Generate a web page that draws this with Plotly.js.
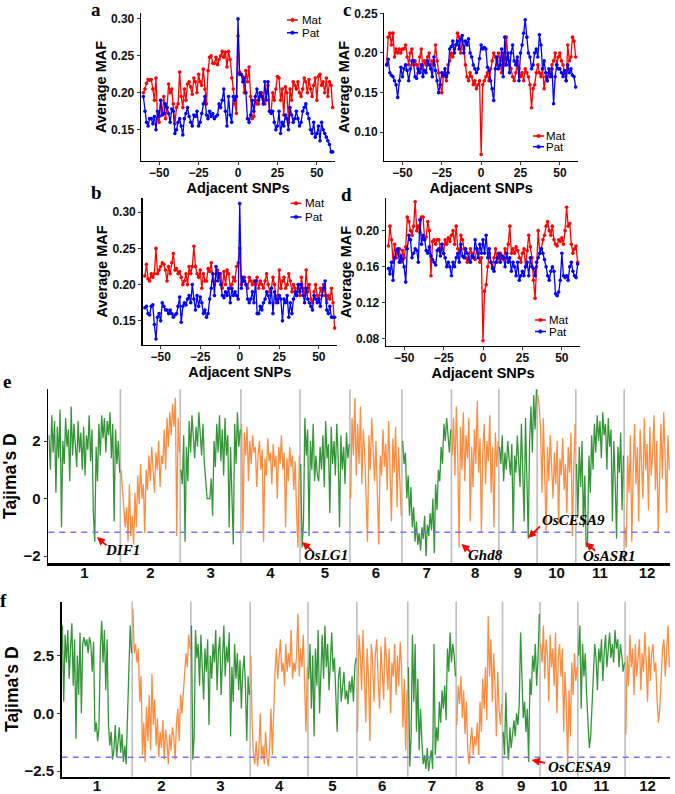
<!DOCTYPE html>
<html><head><meta charset="utf-8">
<script src="https://cdn.plot.ly/plotly-3.0.1.min.js"></script>
<style>html,body{margin:0;padding:0;background:#fff}#chart{width:675px;height:794px}</style>
</head><body><div id="chart"></div>
<script>
// ---------- panels a-d : average MAF around a focal SNP (-60 .. 60) ----------
const snpFirst = -60, snpLast = 60;
const matA = [0.200,0.205,0.213,0.218,0.217,0.218,0.205,0.190,0.220,0.165,
0.160,0.190,0.170,0.195,0.165,0.180,0.212,0.200,0.205,0.185,
0.158,0.180,0.185,0.228,0.195,0.180,0.205,0.190,0.212,0.215,
0.208,0.198,0.220,0.215,0.200,0.225,0.215,0.210,0.232,0.205,
0.185,0.230,0.248,0.250,0.240,0.240,0.248,0.238,0.245,0.250,
0.256,0.248,0.255,0.235,0.256,0.245,0.220,0.205,0.185,0.172,
0.277,0.228,0.225,0.222,0.200,0.230,0.215,0.235,0.195,0.165,
0.168,0.190,0.185,0.185,0.195,0.200,0.192,0.185,0.200,0.210,
0.175,0.175,0.200,0.190,0.205,0.222,0.220,0.190,0.205,0.170,
0.208,0.200,0.160,0.205,0.190,0.215,0.210,0.205,0.215,0.200,
0.195,0.205,0.220,0.215,0.200,0.218,0.205,0.195,0.210,0.220,
0.190,0.222,0.225,0.210,0.215,0.200,0.220,0.195,0.215,0.210,0.180];
const patA = [0.195,0.175,0.160,0.155,0.165,0.165,0.158,0.168,0.150,0.175,
0.168,0.190,0.170,0.172,0.185,0.180,0.172,0.160,0.178,0.175,
0.145,0.150,0.160,0.165,0.155,0.143,0.165,0.172,0.180,0.168,
0.160,0.155,0.170,0.168,0.175,0.155,0.160,0.172,0.185,0.195,
0.170,0.165,0.175,0.168,0.172,0.165,0.168,0.170,0.185,0.180,
0.190,0.205,0.175,0.155,0.195,0.170,0.160,0.195,0.190,0.195,
0.300,0.225,0.225,0.215,0.220,0.200,0.165,0.160,0.170,0.190,
0.175,0.195,0.205,0.190,0.200,0.195,0.185,0.215,0.190,0.215,
0.175,0.172,0.175,0.160,0.150,0.155,0.175,0.145,0.160,0.155,
0.170,0.165,0.150,0.180,0.170,0.160,0.165,0.175,0.165,0.155,
0.160,0.175,0.180,0.185,0.172,0.165,0.150,0.145,0.160,0.140,
0.145,0.155,0.135,0.160,0.150,0.145,0.140,0.135,0.130,0.120,0.120];
const matB = [0.212,0.228,0.208,0.205,0.215,0.210,0.215,0.250,0.215,0.220,
0.225,0.230,0.228,0.220,0.205,0.225,0.215,0.230,0.243,0.220,
0.222,0.215,0.218,0.210,0.200,0.205,0.215,0.200,0.225,0.215,
0.225,0.253,0.225,0.215,0.210,0.220,0.195,0.215,0.205,0.205,
0.222,0.218,0.230,0.205,0.200,0.215,0.220,0.210,0.215,0.195,
0.218,0.200,0.220,0.215,0.195,0.200,0.210,0.205,0.225,0.230,
0.250,0.200,0.205,0.210,0.200,0.195,0.210,0.205,0.200,0.205,
0.200,0.210,0.195,0.205,0.200,0.195,0.205,0.215,0.200,0.190,
0.195,0.210,0.200,0.175,0.185,0.220,0.195,0.205,0.210,0.195,
0.200,0.215,0.205,0.190,0.200,0.195,0.185,0.200,0.185,0.210,
0.195,0.185,0.220,0.190,0.200,0.180,0.175,0.190,0.200,0.185,
0.180,0.195,0.190,0.200,0.185,0.175,0.185,0.180,0.195,0.175,0.140];
const patB = [0.168,0.170,0.160,0.158,0.170,0.172,0.145,0.125,0.155,0.160,
0.150,0.175,0.170,0.165,0.165,0.160,0.165,0.160,0.155,0.158,
0.160,0.170,0.183,0.148,0.170,0.175,0.172,0.180,0.185,0.175,
0.200,0.180,0.165,0.185,0.170,0.183,0.175,0.160,0.165,0.155,
0.160,0.180,0.195,0.215,0.185,0.225,0.205,0.215,0.200,0.185,
0.182,0.190,0.185,0.195,0.175,0.195,0.185,0.190,0.185,0.180,
0.312,0.195,0.210,0.205,0.200,0.180,0.175,0.180,0.190,0.175,
0.205,0.160,0.160,0.170,0.165,0.175,0.180,0.190,0.185,0.175,
0.195,0.160,0.190,0.180,0.175,0.185,0.180,0.150,0.180,0.175,
0.185,0.155,0.175,0.160,0.180,0.190,0.185,0.200,0.190,0.200,
0.185,0.175,0.195,0.180,0.175,0.170,0.165,0.185,0.180,0.175,
0.180,0.170,0.185,0.195,0.205,0.165,0.160,0.170,0.155,0.155,0.155];
const matC = [0.185,0.220,0.225,0.210,0.225,0.195,0.205,0.200,0.205,0.200,
0.205,0.205,0.210,0.195,0.185,0.200,0.205,0.185,0.190,0.185,
0.175,0.195,0.205,0.180,0.190,0.185,0.195,0.200,0.180,0.190,
0.185,0.210,0.190,0.175,0.160,0.150,0.170,0.175,0.165,0.185,
0.190,0.200,0.195,0.205,0.210,0.225,0.220,0.200,0.215,0.205,
0.185,0.170,0.165,0.175,0.170,0.160,0.165,0.155,0.160,0.165,
0.072,0.160,0.165,0.170,0.175,0.165,0.180,0.190,0.200,0.195,
0.185,0.200,0.190,0.175,0.200,0.185,0.220,0.195,0.190,0.180,
0.170,0.165,0.175,0.190,0.180,0.170,0.175,0.165,0.180,0.175,
0.170,0.160,0.131,0.155,0.160,0.175,0.185,0.175,0.170,0.180,
0.155,0.170,0.165,0.175,0.175,0.185,0.190,0.200,0.185,0.195,
0.200,0.190,0.185,0.175,0.165,0.210,0.190,0.195,0.220,0.215,0.195];
const patC = [0.185,0.192,0.175,0.172,0.170,0.165,0.160,0.144,0.165,0.182,
0.170,0.180,0.185,0.178,0.165,0.180,0.190,0.190,0.170,0.168,
0.180,0.175,0.185,0.170,0.178,0.175,0.190,0.185,0.180,0.170,
0.195,0.178,0.165,0.150,0.160,0.175,0.172,0.180,0.170,0.175,
0.205,0.208,0.215,0.200,0.210,0.215,0.205,0.218,0.222,0.200,
0.215,0.210,0.218,0.200,0.195,0.185,0.180,0.175,0.180,0.193,
0.210,0.205,0.207,0.205,0.182,0.178,0.165,0.155,0.140,0.180,
0.195,0.180,0.185,0.205,0.170,0.220,0.185,0.200,0.175,0.200,
0.210,0.190,0.185,0.195,0.165,0.200,0.210,0.225,0.242,0.220,
0.200,0.195,0.180,0.185,0.200,0.205,0.195,0.223,0.210,0.180,
0.190,0.175,0.165,0.180,0.170,0.180,0.136,0.170,0.185,0.180,
0.180,0.175,0.170,0.178,0.165,0.185,0.175,0.180,0.172,0.170,0.157];
const matD = [0.183,0.205,0.190,0.165,0.185,0.170,0.175,0.180,0.165,0.178,
0.170,0.182,0.215,0.210,0.200,0.195,0.205,0.232,0.200,0.205,
0.198,0.215,0.215,0.190,0.193,0.210,0.200,0.150,0.188,0.190,
0.185,0.190,0.190,0.178,0.185,0.175,0.190,0.185,0.192,0.188,
0.195,0.200,0.185,0.205,0.180,0.175,0.195,0.190,0.180,0.170,
0.165,0.170,0.180,0.175,0.170,0.168,0.180,0.175,0.165,0.170,
0.078,0.133,0.140,0.160,0.175,0.165,0.160,0.170,0.180,0.165,
0.170,0.175,0.172,0.168,0.180,0.170,0.185,0.205,0.175,0.180,
0.175,0.182,0.178,0.170,0.165,0.175,0.180,0.160,0.178,0.195,
0.182,0.170,0.145,0.125,0.160,0.200,0.175,0.180,0.190,0.195,
0.205,0.210,0.200,0.195,0.205,0.190,0.185,0.183,0.190,0.188,
0.192,0.185,0.200,0.226,0.205,0.208,0.185,0.175,0.180,0.183,0.165];
const patD = [0.158,0.152,0.165,0.145,0.170,0.178,0.180,0.165,0.172,0.168,
0.160,0.143,0.180,0.195,0.190,0.170,0.175,0.180,0.178,0.165,
0.212,0.185,0.195,0.190,0.178,0.175,0.182,0.172,0.168,0.165,
0.162,0.178,0.180,0.172,0.185,0.175,0.170,0.160,0.165,0.160,
0.150,0.165,0.160,0.170,0.175,0.165,0.185,0.172,0.170,0.180,
0.175,0.168,0.165,0.172,0.170,0.190,0.180,0.170,0.185,0.175,
0.190,0.175,0.195,0.170,0.180,0.165,0.158,0.155,0.165,0.170,
0.175,0.165,0.172,0.170,0.160,0.175,0.165,0.170,0.155,0.165,
0.160,0.150,0.165,0.145,0.150,0.155,0.150,0.160,0.165,0.150,
0.170,0.160,0.158,0.150,0.165,0.170,0.175,0.180,0.175,0.168,
0.160,0.150,0.145,0.155,0.160,0.155,0.130,0.128,0.132,0.145,
0.175,0.150,0.148,0.150,0.145,0.160,0.165,0.155,0.150,0.148,0.163];
const snpTicks = [-50,-25,0,25,50];

// ---------- panels e-f : Tajima's D along the 12 rice chromosomes ----------
const chrNames = ['1','2','3','4','5','6','7','8','9','10','11','12'];
const chrLenMb = [43.27,35.94,36.41,35.50,29.96,31.25,29.70,28.44,23.01,23.21,29.02,27.53];
const tajE = [
[2.2,1.0,2.9,1.6,2.7,0.2,2.5,1.4,3.1,-1.0,2.0,1.2,2.8,1.8,2.4,0.6,3.2,1.5,2.6,2.0,1.1,2.7,1.6,2.3,1.0,2.5,0.8,2.2,1.7,2.9,1.3,2.4,-0.5,-1.5,1.8,0.6,2.6,1.5,2.9,2.1,2.8,1.6,2.7,2.2,3.0,1.4,2.6,-0.8,2.4,1.2,2.0,0.9],
[1.0,0.2,-0.5,-1.0,-0.3,-1.5,0.5,-1.3,-0.6,-1.6,0.2,-1.0,0.8,-0.2,1.2,0.0,0.5,-1.2,1.0,0.3,1.5,0.6,1.8,0.9,0.2,1.6,1.0,2.0,0.4,1.5,1.2,2.4,1.0,2.8,1.8,3.0,2.2,3.3,2.5,3.5,-1.3,2.8,1.6],
[1.0,0.5,2.2,-1.5,1.8,0.6,2.7,1.6,2.9,2.0,1.4,2.5,1.8,3.0,2.2,1.5,2.6,1.2,0.6,0.0,0.0,0.0,0.7,-0.6,2.0,1.1,2.6,1.6,2.9,1.3,2.4,0.8,2.8,1.5,2.2,-1.0,1.8,0.4,-1.6,2.6,1.2,3.0,1.8,2.4],
[2.6,-1.2,2.3,1.5,2.5,0.6,2.0,1.2,2.2,1.6,1.8,0.4,1.5,2.0,1.0,1.7,-1.5,1.4,0.8,2.1,1.3,1.6,0.5,1.9,1.1,1.5,0.0,1.8,1.2,2.2,1.0,1.6,-1.0,1.4,0.6,1.8,1.1,1.5,0.3,1.3,-0.5,-1.7,1.5],
[1.2,-1.7,-0.8,2.8,1.5,2.4,-1.3,2.0,1.0,2.6,0.6,1.5,0.8,0.6,1.8,1.0,2.2,0.4,2.7,1.4,1.9,-0.5,2.5,1.2,2.0,0.8,2.6,1.5,-1.0,2.2,1.0,1.8,0.5,2.3,1.4,1.9],
[0.0,2.8,1.5,3.5,0.8,2.6,1.2,3.2,0.5,2.4,1.6,-0.5,-1.5,2.2,1.0,2.8,1.4,0.6,2.0,0.2,-1.6,1.5,0.8,2.4,1.1,1.9,0.3,2.7,1.3,-0.8,2.1,0.9,2.5,-0.3,1.8,0.4,-0.6],
[2.0,1.2,1.6,0.0,0.8,-0.6,0.4,-1.0,-0.3,-1.5,-0.8,-1.6,-1.2,-1.8,-1.0,-1.4,-0.6,-2.0,-0.9,-1.3,-0.5,-1.1,0.0,-1.9,0.5,-0.4,1.0,0.6,1.8,1.2,2.6,2.0,2.8,2.2,1.6,2.4],
[1.5,2.8,0.8,3.2,1.6,-1.7,2.5,1.0,3.0,0.6,2.2,1.4,2.8,-0.8,1.8,0.4,2.4,1.2,3.4,0.9,2.1,-1.2,1.6,2.6,0.5,2.0,1.3,2.9,0.2,1.8,-1.0,2.3,1.1,2.0],
[1.8,1.2,2.2,0.6,1.6,1.0,2.0,1.4,0.8,1.9,-1.2,1.5,0.9,2.2,1.3,0.4,2.6,1.1,-0.8,2.8,0.5,-1.4,2.0,3.2,1.6,3.6,2.4,3.8],
[3.6,3.2,2.4,0.2,2.8,1.2,-1.2,1.8,0.6,2.2,1.0,0.0,1.6,0.5,2.0,-0.9,1.4,0.8,2.1,0.3,1.2,-0.5,1.8,0.9,2.3,-1.3,1.0,2.6],
[1.2,-0.6,1.8,0.4,2.0,-1.0,0.8,-1.7,-1.5,1.5,0.2,2.2,1.0,2.6,1.6,2.9,2.0,2.7,1.4,3.0,2.2,2.6,1.0,2.8,1.8,2.4,-0.8,2.0,0.6,-1.4,1.8,0.9,2.3,-0.4,1.5],
[-1.0,-1.7,1.5,0.2,2.2,-1.5,1.0,2.6,0.5,1.8,-0.8,2.4,1.2,0.0,2.8,1.0,1.9,-0.4,2.5,0.8,1.6,2.9,0.3,2.0,-1.2,1.4,2.6,0.7,3.0,1.5,-0.5,2.2,1.0]
];
const tajF = [
[3.8,0.5,3.4,2.2,3.6,1.5,2.8,3.9,1.2,3.2,-1.1,2.5,0.8,3.5,0.0,3.0,3.3,2.9,3.2,2.6,3.3,3.0,1.8,3.1,-0.8,-0.4,-1.2,-0.6,2.8,4.0,2.2,3.6,1.0,3.2,-0.5,-1.4,-0.8,-2.0,-1.6,-0.5,-1.9,-1.2,-0.6,-1.7,-0.9,-2.1,-1.4,-2.2,0.2,1.5,3.8,2.6],
[4.5,2.6,3.0,2.2,2.8,0.5,1.6,-1.8,-0.4,-2.1,0.3,-1.2,0.8,-1.6,1.7,-0.5,0.6,-1.4,-0.2,-1.9,-0.8,-1.5,-0.3,-2.0,-0.7,-1.2,-2.2,-0.9,-1.6,-0.6,-1.0,-2.0,-0.4,0.2,-1.2,0.8,0.0,1.0,1.8,2.6,2.0,3.4,2.8],
[3.8,-2.0,-1.0,3.6,2.4,3.0,1.2,3.4,2.0,0.6,2.8,1.8,3.2,-0.5,2.5,1.5,3.0,2.2,3.6,1.0,2.7,3.3,0.8,2.4,3.8,1.6,2.9,2.2,3.5,-1.0,2.0,0.5,3.0,1.5,2.6,1.0,2.3,0.2,1.8,2.5,1.2,-1.2,1.6,0.8],
[2.5,-0.5,-1.8,-2.2,-1.2,-2.3,-1.6,0.0,-2.0,-1.4,-2.2,-0.8,-1.9,-2.3,-1.5,0.2,-1.8,0.5,1.8,2.8,1.5,2.4,3.2,1.8,2.2,1.2,3.0,1.8,2.6,2.0,3.6,1.5,2.2,1.8,2.5,4.3,1.6,2.8,2.0,3.4,1.2,-0.8,2.0],
[1.5,3.0,0.2,2.5,-1.0,2.8,1.2,3.6,0.0,2.2,3.4,1.5,3.8,2.0,3.0,1.0,2.6,3.5,1.8,2.4,0.8,-0.8,1.6,2.0,0.5,1.2,1.8,0.6,1.0,0.4,1.4,0.9,1.6,0.5,2.0,2.4],
[-0.8,3.4,2.6,1.0,3.6,2.0,-0.4,2.8,1.5,-1.2,3.0,2.2,0.5,2.6,3.2,1.4,0.2,2.9,1.8,0.6,3.3,2.4,1.0,2.8,0.0,2.2,1.6,3.0,0.8,2.5,1.2,3.1,2.0,-0.6,1.5,-1.6,1.0],
[2.0,-2.3,-1.0,3.4,0.5,3.0,-0.8,1.5,-1.6,0.2,-1.2,-2.2,-1.8,-2.4,-1.5,-2.5,-2.0,-1.6,-2.4,3.0,-1.8,-0.6,-1.2,0.5,-0.4,1.0,0.2,1.2,-0.3,2.8,1.8,3.5,2.2,3.0,2.5,1.6],
[-0.5,1.2,0.4,1.6,-0.2,1.0,-0.9,0.5,-1.6,-2.2,-1.2,-0.6,-1.8,-1.0,-1.4,-0.4,-1.8,0.5,-0.8,1.5,0.2,2.0,-0.3,4.2,1.6,3.2,0.5,2.6,1.2,-1.0,1.8,0.2,-0.5,0.4],
[-0.8,-1.8,0.9,-1.2,-2.0,-0.6,-1.5,-0.8,-0.3,-1.0,0.0,-0.5,0.4,3.5,2.0,-0.2,0.5,-0.8,0.2,-2.1,1.5,0.8,2.5,1.8,3.0,1.2,2.4,4.3],
[3.0,2.2,3.8,1.5,3.2,2.6,0.5,3.4,2.0,2.8,1.2,3.5,0.0,2.4,3.0,1.6,2.8,-0.8,1.8,0.4,-2.2,1.0,-1.0,2.2,0.8,2.6,1.4,2.0],
[2.5,3.8,0.2,3.0,1.6,2.6,0.8,-0.5,-1.5,-1.0,0.6,2.2,3.0,2.4,1.0,2.8,2.2,3.2,1.4,2.6,3.4,2.0,2.9,3.5,2.4,3.0,2.2,3.6,2.8,3.2,2.0,3.0,2.5,1.8,2.2],
[-0.9,2.5,1.2,3.4,2.0,2.8,0.8,3.0,1.6,2.4,3.2,1.0,2.6,1.8,3.5,2.2,0.5,2.9,1.4,2.6,3.0,1.8,2.2,0.6,-0.4,0.2,1.5,2.8,3.2,1.6,2.6,3.8,2.0]
];
const threshE = -1.17, threshF = -1.90;
// gene markers: [label, chromosome, position in Mb on chromosome, Tajima's D at arrow tip]
const genesE = [['DIF1',1,29.2,-1.34],['OsLG1',5,1.2,-1.51],['Ghd8',8,6.0,-1.58],['OsCESA9',9,17.6,-1.37],['OsASR1',11,5.9,-1.53]];
const genesF = [['OsCESA9',9,17.8,-2.02]];

// ---------- drawing ----------
const W = 675, H = 794;
const px = v => v / W, py = v => 1 - v / H;
const SANS = 'Liberation Sans, Arial, sans-serif', SERIF = 'Liberation Serif, Times New Roman, serif';
const RED = '#FF0000', BLUE = '#0000FF';
const GREEN = '#1E8B22', ORANGE = '#FF7F2A';
const B = t => '<b>' + t + '</b>';

const snpX = []; for (let s = snpFirst; s <= snpLast; s++) snpX.push(s);

const traces = [], shapes = [], annotations = [];
const layout = {width: W, height: H, margin: {l:0,r:0,t:0,b:0}, paper_bgcolor:'#fff', plot_bgcolor:'#fff', showlegend:false, font:{family:SANS}};

const small = [
  {letter:'a', x:[141,335], y:[13,161], yr:[0.1077,0.308], yt:[0.15,0.20,0.25,0.30], mat:matA, pat:patA, leg:[287,300,20,32.7], L:[96,9]},
  {letter:'b', x:[142.5,337], y:[198,345], yr:[0.1167,0.3195], yt:[0.15,0.20,0.25,0.30], mat:matB, pat:patB, leg:[290.5,303,203.3,217], L:[96,193]},
  {letter:'c', x:[384.3,578], y:[12.7,161], yr:[0.0638,0.2508], yt:[0.10,0.15,0.20,0.25], mat:matC, pat:patC, leg:[533,544.3,136,146.7], L:[346.7,9]},
  {letter:'d', x:[386,580], y:[198,346], yr:[0.0722,0.2362], yt:[0.08,0.12,0.16,0.20], mat:matD, pat:patD, leg:[535,546.7,320,331.5], L:[346.7,194]}
];
const tickFontS = {family:SANS, size:12, color:'#111', weight:'bold'};
const titleFontS = {family:SANS, size:14.5, color:'#000', weight:'bold'};
small.forEach((p, i) => {
  const sfx = i === 0 ? '' : String(i + 1);
  layout['xaxis' + sfx] = {domain:[px(p.x[0]), px(p.x[1])], range:[-61.5, 61.5], anchor:'y' + sfx,
    showline:true, linecolor:'#000', linewidth:1.3, ticks:'outside', ticklen:3, tickcolor:'#333', tickwidth:1,
    showgrid:false, zeroline:false, tickvals:snpTicks, ticktext:snpTicks.map(v => B(v < 0 ? '\u2212' + (-v) : v)),
    tickfont:tickFontS, ticklabelstandoff:-3,
    title:{text:B('Adjacent SNPs'), font:titleFontS, standoff:0}};
  layout['yaxis' + sfx] = {domain:[py(p.y[1]), py(p.y[0])], range:p.yr, anchor:'x' + sfx,
    showline:true, linecolor:'#000', linewidth:1.3, ticks:'outside', ticklen:3, tickcolor:'#333', tickwidth:1,
    showgrid:false, zeroline:false, tickvals:p.yt, ticktext:p.yt.map(v => B(v.toFixed(2))), tickfont:tickFontS,
    title:{text:B('Average MAF'), font:titleFontS, standoff:1}};
  [[p.mat, RED, 'Mat'], [p.pat, BLUE, 'Pat']].forEach(([vals, col, nm]) => {
    traces.push({type:'scatter', mode:'lines+markers', x:snpX, y:vals, name:nm, xaxis:'x' + sfx, yaxis:'y' + sfx,
      line:{color:col, width:1.3}, marker:{color:col, size:3.6}, cliponaxis:false});
  });
  // legend keys
  const [sx, tx, y1, y2] = p.leg;
  [[y1, RED, 'Mat'], [y2, BLUE, 'Pat']].forEach(([yy, col, nm]) => {
    shapes.push({type:'line', xref:'paper', yref:'paper', x0:px(sx), x1:px(sx + 11), y0:py(yy), y1:py(yy), line:{color:col, width:1.5}});
    shapes.push({type:'circle', xref:'paper', yref:'paper', x0:px(sx + 3.7), x1:px(sx + 7.3), y0:py(yy + 1.8), y1:py(yy - 1.8), fillcolor:col, line:{color:col, width:0.5}});
    annotations.push({xref:'paper', yref:'paper', x:px(tx), y:py(yy), text:nm, showarrow:false, xanchor:'left', yanchor:'middle',
      font:{family:SANS, size:11.5, color:'#000'}});
  });
  annotations.push({xref:'paper', yref:'paper', x:px(p.L[0]), y:py(p.L[1]), text:B(p.letter), showarrow:false, xanchor:'center', yanchor:'middle',
    font:{family:SERIF, size:19, color:'#000', weight:'bold'}});
});

// chromosome offsets
const chrStart = []; let acc = 0;
chrLenMb.forEach(l => { chrStart.push(acc); acc += l; });
const genomeLen = acc;
const chrMid = chrLenMb.map((l, k) => chrStart[k] + l / 2);

const big = [
  {letter:'e', sfx:'5', data:tajE, x:[48.3,670], y:[389.3,563], yr:[-2.24,3.80], yt:[-2,0,2], dec:0, thr:threshE, genes:genesE, L:[6.7,381.7], standoff:4},
  {letter:'f', sfx:'6', data:tajF, x:[61.7,670], y:[601.7,776.7], yr:[-2.74,4.83], yt:[-2.5,0,2.5], dec:1, thr:threshF, genes:genesF, L:[3.5,600], standoff:1}
];
const tickFontB = {family:SANS, size:15, color:'#111', weight:'bold'};
big.forEach(p => {
  const s = p.sfx;
  layout['xaxis' + s] = {domain:[px(p.x[0]), px(p.x[1])], range:[0, genomeLen], anchor:'y' + s,
    showline:true, linecolor:'#000', linewidth:2.6, ticks:'', showgrid:false, zeroline:false,
    tickvals:chrMid, ticktext:chrNames.map(B), tickfont:tickFontB, ticklabelstandoff:-6};
  layout['yaxis' + s] = {domain:[py(p.y[1]), py(p.y[0])], range:p.yr, anchor:'x' + s,
    showline:true, linecolor:'#000', linewidth:1.6, ticks:'outside', ticklen:3, tickcolor:'#333',
    showgrid:false, zeroline:false, tickvals:p.yt,
    ticktext:p.yt.map(v => B((v < 0 ? '\u2212' : '') + Math.abs(v).toFixed(p.dec))), tickfont:tickFontB,
    title:{text:B("Tajima's D"), font:{family:SANS, size:17.5, color:'#000', weight:'bold'}, standoff:p.standoff}};
  // chromosome separators
  for (let k = 1; k < chrLenMb.length; k++) {
    shapes.push({type:'line', layer:'below', xref:'x' + s, yref:'y' + s + ' domain', x0:chrStart[k], x1:chrStart[k], y0:0, y1:1,
      line:{color:'#BDBDBD', width:1.6}});
  }
  p.data.forEach((vals, k) => {
    const step = chrLenMb[k] / vals.length;
    const xs = vals.map((_, j) => chrStart[k] + (j + 0.5) * step);
    traces.push({type:'scatter', mode:'lines', x:xs, y:vals, xaxis:'x' + s, yaxis:'y' + s, hoverinfo:'skip',
      line:{color: k % 2 === 0 ? GREEN : ORANGE, width:1.3}, opacity:0.9});
  });
  shapes.push({type:'line', xref:'x' + s + ' domain', yref:'y' + s, x0:0, x1:1, y0:p.thr, y1:p.thr,
    line:{color:'#7F74F0', width:1.5, dash:'6px,5px'}});
  p.genes.forEach(([nm, chr, pos, val]) => {
    const gx = chrStart[chr - 1] + pos;
    const isC = nm === 'OsCESA9';
    const tail = p.letter === 'f' ? [15, 3] : (isC ? [13.4, -13] : [11, 9.5]);
    annotations.push({xref:'x' + s, yref:'y' + s, x:gx, y:val, text:'', showarrow:true, axref:'pixel', ayref:'pixel',
      ax:tail[0], ay:tail[1], arrowhead:2, arrowsize:0.9, arrowwidth:1.8, arrowcolor:'#FF0000', standoff:0, startstandoff:0});
    annotations.push({xref:'x' + s, yref:'y' + s, x:gx, y:val, text:'<b><i>' + nm + '</i></b>', showarrow:false,
      xshift: p.letter === 'f' ? 48 : (isC ? 45 : (nm === 'DIF1' ? 26 : 24)),
      yshift: p.letter === 'f' ? -6.5 : (isC ? 18 : (nm === 'Ghd8' ? -11 : -13)),
      xanchor:'center', yanchor:'middle', font:{family:SERIF, size:15, color:'#000', style:'italic', weight:'bold'}});
  });
  annotations.push({xref:'paper', yref:'paper', x:px(p.L[0]), y:py(p.L[1]), text:B(p.letter), showarrow:false, xanchor:'center', yanchor:'middle',
    font:{family:SERIF, size:19, color:'#000', weight:'bold'}});
});

layout.shapes = shapes;
layout.annotations = annotations;
Plotly.newPlot('chart', traces, layout, {displayModeBar:false, staticPlot:true});
</script>
</body></html>
